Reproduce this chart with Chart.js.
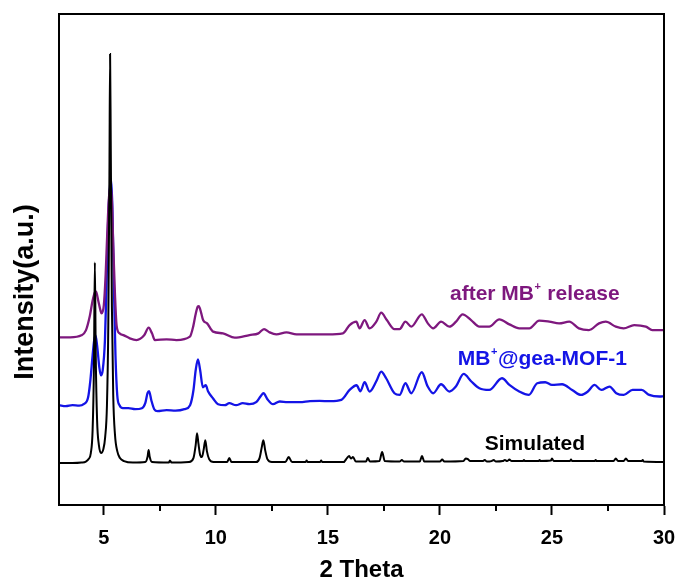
<!DOCTYPE html>
<html>
<head>
<meta charset="utf-8">
<script src="https://cdn.jsdelivr.net/npm/chart.js@4.4.0/dist/chart.umd.min.js"></script>
<style>
  html, body { margin: 0; padding: 0; background: #fff; }
  #wrap { width: 679px; height: 585px; }
</style>
</head>
<body>
<div id="wrap"><canvas id="xrd"></canvas></div>
<script>
const simX = [3.0, 3.6, 4.0, 4.2, 4.32, 4.42, 4.5, 4.56, 4.6, 4.64, 4.7, 4.78, 4.88, 4.98, 5.06, 5.14, 5.2, 5.25, 5.28, 5.31, 5.36, 5.42, 5.5, 5.6, 5.72, 5.9,
  6.3, 6.85, 6.95, 7.0, 7.05, 7.15, 7.9, 7.95, 8.02, 8.8, 9.0, 9.1, 9.16, 9.22, 9.3, 9.38, 9.46, 9.53, 9.6, 9.7, 9.9,
  10.5, 10.6, 10.7, 11.8, 11.95, 12.05, 12.12, 12.2, 12.3, 12.5, 13.1, 13.25, 13.4, 14.0, 14.05, 14.1, 14.65, 14.7, 14.75,
  15.7, 15.85, 15.95, 16.03, 16.12, 16.25, 16.7, 16.78, 16.88, 17.3, 17.42, 17.54, 18.2, 18.3, 18.4, 19.1, 19.2, 19.3,
  20.0, 20.1, 20.2, 21.05, 21.15, 21.25, 21.35, 21.9, 22.0, 22.1, 22.3, 22.4, 22.5, 22.8, 22.9, 23.0, 23.1, 23.2,
  23.7, 23.75, 23.8, 24.4, 24.45, 24.5, 24.95, 25.0, 25.08, 25.8, 25.85, 25.9, 26.9, 26.95, 27.0, 27.75, 27.85, 27.95,
  28.2, 28.3, 28.4, 29.0, 29.05, 29.1, 30.0];
const simY = [42, 42, 42.5, 43.5, 46, 52, 75, 140, 243, 150, 85, 60, 52, 56, 68, 100, 180, 330, 452, 360, 200, 110, 70, 54, 47, 44,
  42.5, 43, 48, 55, 48, 43, 42.5, 44.5, 42.5, 43, 47, 60, 72, 62, 50, 48, 56, 65, 54, 46, 43,
  43, 47, 43, 43, 47, 58, 65, 55, 46, 43, 43, 48, 43, 43, 44.5, 43, 43, 44.5, 43,
  43, 47, 49, 46.5, 48, 43.5, 43.5, 47, 43.5, 44, 53, 44, 43.5, 45, 43.5, 43.5, 49, 43.5,
  43.5, 45.5, 43.5, 44, 46.5, 46, 44, 44, 45, 43.5, 44, 45, 43.5, 44, 45, 44, 45.5, 44,
  44, 45, 44, 44, 45, 44, 44.5, 46.5, 44, 44, 45.5, 44, 44, 45, 44, 44, 46.5, 44,
  44, 46.5, 44, 44, 45, 43.5, 43];

const mbX = [3.0, 3.3, 3.6, 3.9, 4.1, 4.3, 4.4, 4.5, 4.57, 4.63, 4.7, 4.8, 4.87, 4.95, 5.05, 5.12, 5.2, 5.26, 5.32, 5.38, 5.45, 5.52, 5.6, 5.7, 5.85,
  6.1, 6.4, 6.7, 6.85, 6.95, 7.02, 7.12, 7.25, 7.4, 7.8, 8.2, 8.6, 8.85, 9.0, 9.1, 9.2, 9.3, 9.42, 9.55, 9.65, 9.87,
  10.1, 10.4, 10.6, 10.9, 11.2, 11.5, 11.8, 12.0, 12.13, 12.3, 12.55, 12.85, 13.2, 13.74, 14.2, 14.63, 15.1, 15.6, 15.97,
  16.28, 16.45, 16.64, 16.86, 17.16, 17.38, 17.6, 17.97, 18.2, 18.46, 18.72, 19.19, 19.45, 19.7, 20.05, 20.42, 20.72,
  21.06, 21.39, 21.76, 22.2, 22.77, 23.1, 23.54, 23.97, 24.34, 24.7, 25.0, 25.45, 25.9, 26.3, 26.6, 26.9, 27.2, 27.57,
  27.87, 28.2, 28.6, 29.0, 29.34, 29.8, 30.0];
const mbY = [100, 99, 100, 99.5, 101, 108, 125, 150, 165, 170, 160, 138, 130, 135, 165, 220, 290, 315, 327, 300, 220, 150, 110, 100, 97,
  97, 96, 97, 102, 112, 114, 105, 96, 94, 95, 94.5, 96, 100, 115, 135, 146, 135, 118, 120, 114, 107,
  101, 100, 102, 100, 102, 101, 103, 109, 112, 106, 101, 103.7, 103, 103, 104, 104.3, 104, 105.3, 115.3,
  120, 114, 123, 113.7, 124, 133.7, 127, 112, 110.3, 122, 112, 133, 119, 112, 121, 113.7, 119,
  131.3, 124, 117, 115.3, 127, 120.3, 113.7, 110.3, 122, 123, 120.3, 121, 115.3, 110.3, 113.7, 120.3, 115.3, 118.7,
  112, 110.3, 115.3, 115.3, 110.3, 108.7, 109];

const relX = [3.0, 3.5, 4.0, 4.2, 4.38, 4.5, 4.6, 4.65, 4.75, 4.85, 4.9, 5.0, 5.08, 5.15, 5.22, 5.3, 5.36, 5.42, 5.5, 5.57, 5.7, 5.9,
  6.16, 6.46, 6.8, 7.0, 7.15, 7.28, 7.8, 8.24, 8.84, 9.0, 9.09, 9.2, 9.24, 9.35, 9.43, 9.61, 9.88,
  10.32, 10.84, 11.5, 11.9, 12.15, 12.4, 12.7, 13.15, 13.6, 14.33, 15.0, 15.67, 15.97, 16.27, 16.41, 16.64, 16.86,
  17.16, 17.38, 17.63, 17.97, 18.2, 18.46, 18.72, 19.19, 19.46, 19.7, 20.05, 20.42, 20.72, 21.01, 21.39, 21.76,
  22.2, 22.65, 23.1, 23.54, 23.99, 24.43, 24.88, 25.32, 25.77, 26.2, 26.65, 27.1, 27.4, 27.85, 28.2, 28.67,
  29.19, 29.48, 29.93, 30.0];
const relY = [168, 168, 170, 175, 190, 205, 213, 214, 205, 195, 192, 200, 230, 270, 305, 320, 305, 260, 210, 180, 172, 170,
  167, 165.3, 170, 177.7, 172, 165.3, 166, 165.3, 168.7, 180, 190.3, 199, 199.3, 192, 185.3, 182, 173.7,
  172, 167.7, 170.3, 172, 176.3, 173, 171, 173, 171, 171, 171, 172, 180.3, 183.7, 177, 185.3, 177,
  183.7, 192.7, 185.3, 176.3, 176.3, 183.7, 178.7, 191, 182, 177, 183.7, 178.7, 183.7, 191, 185.3, 178.7,
  178.7, 186, 181, 177, 177, 184.7, 183.7, 182, 183.7, 177, 175.3, 182, 183.7, 178.7, 177, 180.3,
  178.7, 175.3, 175.3, 175];

const seriesNames = ['Simulated', 'MB⁺@gea-MOF-1', 'after MB⁺ release'];
const seriesColors = ['#000000', '#1414e6', '#7e187e'];
// posicao dos rotulos (em unidades do grafico)
const labelX = [22.0, 20.8, 20.45];
const labelY = [55, 140, 205];

const majorTicks = [5, 10, 15, 20, 25, 30];
const minorTicks = [7.5, 12.5, 17.5, 22.5, 27.5];

const fontFamily = "'Liberation Sans', Arial, Helvetica, sans-serif";

function toPoints(xs, ys) {
    return xs.map((v, i) => ({ x: v, y: ys[i] }));
}

// desenha rotulos das curvas, moldura, ticks menores e titulo do eixo y
const extrasPlugin = {
    id: 'extras',
    afterDatasetsDraw(chart) {
        const { ctx, scales: { x, y } } = chart;
        ctx.save();
        ctx.textBaseline = 'alphabetic';
        ctx.textAlign = 'left';
        seriesNames.forEach((name, i) => {
            let px = x.getPixelForValue(labelX[i]);
            const py = y.getPixelForValue(labelY[i]);
            ctx.fillStyle = seriesColors[i];
            name.split('⁺').forEach((part, k) => {
                if (k > 0) {
                    ctx.font = 'bold 11px ' + fontFamily;
                    ctx.fillText('+', px + 0.5, py - 10);
                    px += ctx.measureText('+').width + 1;
                }
                ctx.font = 'bold 21px ' + fontFamily;
                ctx.fillText(part, px, py);
                px += ctx.measureText(part).width;
            });
        });
        ctx.restore();
    },
    afterDraw(chart) {
        const { ctx, chartArea: a, scales: { x } } = chart;
        ctx.save();
        ctx.strokeStyle = '#000';
        ctx.lineWidth = 2;
        ctx.strokeRect(a.left, a.top, a.right - a.left, a.bottom - a.top);
        ctx.beginPath();
        minorTicks.forEach(v => {
            const px = Math.round(x.getPixelForValue(v));
            ctx.moveTo(px, a.bottom);
            ctx.lineTo(px, a.bottom + 6);
        });
        ctx.stroke();

        ctx.translate(26, 292);
        ctx.rotate(-Math.PI / 2);
        ctx.fillStyle = '#000';
        ctx.font = 'bold 27px ' + fontFamily;
        ctx.textAlign = 'center';
        ctx.textBaseline = 'middle';
        ctx.fillText('Intensity(a.u.)', 0, 0);
        ctx.restore();
    }
};

const datasets = [
    { pts: toPoints(simX, simY), order: 0 },
    { pts: toPoints(mbX, mbY), order: 2 },
    { pts: toPoints(relX, relY), order: 1 }
].map((d, i) => ({
    label: seriesNames[i],
    data: d.pts,
    borderColor: seriesColors[i],
    borderWidth: i === 0 ? 2 : 2.3,
    pointRadius: 0,
    fill: false,
    cubicInterpolationMode: 'monotone',
    order: d.order
}));

new Chart(document.getElementById('xrd'), {
    type: 'line',
    data: { datasets: datasets },
    options: {
        responsive: true,
        maintainAspectRatio: false,
        animation: false,
        layout: { padding: { top: 14, right: 15, bottom: 0, left: 0 } },
        plugins: {
            legend: { display: false },
            tooltip: { enabled: false }
        },
        scales: {
            x: {
                type: 'linear',
                min: 3,
                max: 30,
                afterBuildTicks: scale => {
                    scale.ticks = majorTicks.map(v => ({ value: v }));
                },
                afterFit: scale => {
                    scale.height = 80;
                    scale.paddingLeft = 0;
                    scale.paddingRight = 0;
                },
                grid: { drawOnChartArea: false, drawTicks: true, tickLength: 10, tickWidth: 2, tickColor: '#000' },
                border: { display: true, color: '#000', width: 2 },
                ticks: {
                    color: '#000',
                    padding: 11,
                    maxRotation: 0,
                    font: { family: fontFamily, size: 20, weight: 'bold' }
                },
                title: {
                    display: true,
                    text: '2 Theta',
                    color: '#000',
                    padding: { top: 0, bottom: 0 },
                    font: { family: fontFamily, size: 24, weight: 'bold' }
                }
            },
            y: {
                min: 0,
                max: 492,
                afterFit: scale => { scale.width = 59; },
                grid: { display: false },
                border: { display: true, color: '#000', width: 2 },
                ticks: { display: false }
            }
        }
    },
    plugins: [extrasPlugin]
});
</script>
</body>
</html>
